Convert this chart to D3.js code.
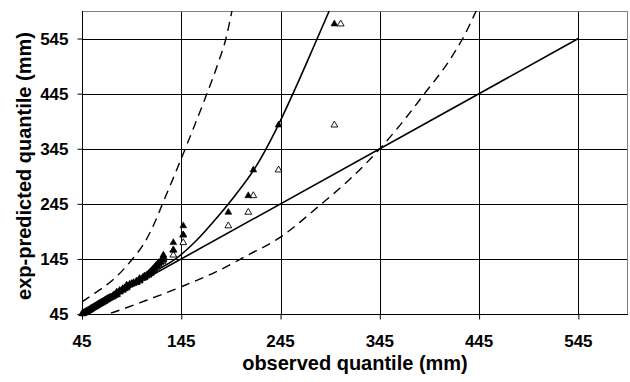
<!DOCTYPE html>
<html>
<head>
<meta charset="utf-8">
<script src="https://cdn.jsdelivr.net/npm/d3@7"></script>
<style>
  html, body { margin: 0; padding: 0; background: #fff; }
  svg { display: block; font-family: "Liberation Sans", Arial, sans-serif; }
</style>
</head>
<body>
<svg id="chart" width="630" height="382"></svg>
<script>
// ---- data ----
const xTicks = [45, 145, 245, 345, 445, 545];
const yTicks = [45, 145, 245, 345, 445, 545];

// filled triangles: observed vs predicted
const filledObserved = [45,46,47,48,49,50,51,52,53,54,55,56,57,58,59,60,61,62,63,64,65,66,67,68,69,70,71,72,73,74,76,77,78,80,80,80,83,83,86,86,88,90,90,90,93,95,97,100,100,103,103,103,106,108,108,110,112,112,114,114,116,116,118,118,120,120,122,122,124,126,127,127,127,137,137,147,147,192.4,212.5,217.6,243,299.2];
const filledPredicted = [45.5,46.5,47.5,48.5,49.5,50.5,51.5,52.5,53.5,55,56,57,58,59,60,61.5,62.5,63.5,64.5,65.5,66.5,67.5,68.5,70,71,72,73,74,75,76,78,79,80,81,83,85,86,88,89.5,91,92.5,94,96,97.5,99,100.5,102,103.5,105,106.5,108,109.5,111,112.5,114,115.5,117,118.5,120,122,124,126,128,130,132,134,136,138,140,143,146,149,152,161,174.5,188.5,205,229.6,259.7,306.4,388,571.4];

// open triangles
const openObserved = [46,47,48,49,50,51,52,53,54,55,56,57,58,59,60,61,62,63,64,65,66,67,68,69,70,71,72,73,74,76,77,78,80,80,80,83,83,86,86,88,90,90,90,93,95,97,100,100,103,103,103,106,108,108,110,112,112,114,114,116,116,118,118,120,120,122,122,124,126,127,127,127,137,137,147,147,192.4,212.5,217.6,243,299.2,305.6];
const openPredicted = [45.5,46.5,47.5,48.5,49.5,50.5,51.5,52.5,53.5,55,56,57,58,59,60,61.5,62.5,63.5,64.5,65.5,66.5,67.5,68.5,70,71,72,73,74,75,76,78,79,80,81,83,85,86,88,89.5,91,92.5,94,96,97.5,99,100.5,102,103.5,105,106.5,108,109.5,111,112.5,114,115.5,117,118.5,120,122,124,126,128,130,132,134,136,138,140,143,146,149,152,161,174.5,188.5,205,229.6,259.7,306.4,388,571.4];

// reference lines / curves
const identityX = [45, 545];
const identityY = [45, 545];
const solidCurveX = [45, 80, 100, 120, 140, 160, 180, 200, 220, 240, 260, 280, 294];
const solidCurveY = [45, 80, 102, 124, 146, 178, 218, 262, 312, 378, 455, 537, 595];
const upperDashX = [45, 58, 78, 95, 108.5, 118.5, 127, 140, 155, 170, 183, 190, 196];
const upperDashY = [67, 83, 110, 143, 176, 212, 249, 305, 372, 441, 505, 545, 595];
const lowerDashX = [45, 73, 110, 143.7, 184, 210, 244.5, 283, 315, 345, 365, 390, 415, 430, 442];
const lowerDashY = [32, 46, 70, 93.5, 125, 150, 184, 240, 290, 345, 387, 445, 505, 550, 595];

// ---- drawing ----
const svg = d3.select("#chart");
const pL = 82, pR = 628, pT = 11, pB = 314;
const x = d3.scaleLinear().domain([45, 595]).range([pL, pR]);
const y = d3.scaleLinear().domain([45, 595]).range([pB, pT]);

svg.append("defs").append("clipPath").attr("id", "plotclip")
  .append("rect").attr("x", pL).attr("y", pT).attr("width", pR - pL).attr("height", pB - pT);

// gridlines
const grid = svg.append("g");
grid.selectAll("line.h").data(yTicks.slice(1)).join("line").attr("class", "h")
  .attr("x1", pL).attr("x2", pR)
  .attr("y1", d => Math.round(y(d)) + 0.5).attr("y2", d => Math.round(y(d)) + 0.5)
  .attr("stroke", "#000").attr("stroke-width", 1);
grid.selectAll("line.v").data(xTicks.slice(1)).join("line").attr("class", "v")
  .attr("y1", pT).attr("y2", pB)
  .attr("x1", d => Math.round(x(d)) + 0.5).attr("x2", d => Math.round(x(d)) + 0.5)
  .attr("stroke", "#000").attr("stroke-width", 1);

// frame: top and right grey
svg.append("line").attr("x1", pL).attr("x2", pR).attr("y1", pT + 0.5).attr("y2", pT + 0.5)
  .attr("stroke", "#808080").attr("stroke-width", 1);
svg.append("line").attr("x1", pR - 0.5).attr("x2", pR - 0.5).attr("y1", pT).attr("y2", pB)
  .attr("stroke", "#808080").attr("stroke-width", 1);

// axes
const xAxis = d3.axisBottom(x).tickValues(xTicks).tickSize(5).tickSizeOuter(0).tickFormat("");
const yAxis = d3.axisLeft(y).tickValues(yTicks).tickSize(5).tickSizeOuter(0).tickFormat("");
const gx = svg.append("g").attr("transform", `translate(0,${pB + 0.5})`).call(xAxis);
const gy = svg.append("g").attr("transform", `translate(${pL + 0.5},0)`).call(yAxis);
gx.select(".domain").attr("d", `M${pL},0H${pR}`).attr("stroke", "#000");
gy.select(".domain").attr("d", `M0,${pT}V${pB}`).attr("stroke", "#000");
gx.selectAll(".tick line").attr("stroke", "#000");
gy.selectAll(".tick line").attr("stroke", "#000");

// tick labels
svg.append("g").selectAll("text").data(xTicks).join("text")
  .attr("x", d => x(d)).attr("y", 346.5)
  .attr("text-anchor", "middle")
  .attr("font-size", 17).attr("font-weight", "bold").attr("fill", "#000")
  .text(d => d);
svg.append("g").selectAll("text").data(yTicks).join("text")
  .attr("x", 68.5).attr("y", d => y(d) + 6)
  .attr("text-anchor", "end")
  .attr("font-size", 17).attr("font-weight", "bold").attr("fill", "#000")
  .text(d => d);

// axis titles
svg.append("text").attr("x", 355).attr("y", 370).attr("text-anchor", "middle")
  .attr("font-size", 20).attr("font-weight", "bold").text("observed quantile (mm)");
svg.append("text").attr("transform", "translate(31,166) rotate(-90)").attr("text-anchor", "middle")
  .attr("font-size", 20).attr("font-weight", "bold").text("exp-predicted quantile (mm)");

// curves
const plot = svg.append("g").attr("clip-path", "url(#plotclip)");
const line = d3.line().x(d => x(d[0])).y(d => y(d[1]));
const smooth = d3.line().x(d => x(d[0])).y(d => y(d[1])).curve(d3.curveMonotoneX);
const zip = (a, b) => a.map((v, i) => [v, b[i]]);

plot.append("path").attr("d", line(zip(identityX, identityY)))
  .attr("fill", "none").attr("stroke", "#000").attr("stroke-width", 1.6);
plot.append("path").attr("d", smooth(zip(solidCurveX, solidCurveY)))
  .attr("fill", "none").attr("stroke", "#000").attr("stroke-width", 1.6);
plot.append("path").attr("d", smooth(zip(upperDashX, upperDashY)))
  .attr("fill", "none").attr("stroke", "#000").attr("stroke-width", 1.4).attr("stroke-dasharray", "9,6");
plot.append("path").attr("d", smooth(zip(lowerDashX, lowerDashY)))
  .attr("fill", "none").attr("stroke", "#000").attr("stroke-width", 1.4).attr("stroke-dasharray", "9,6");

// points
const tri = d3.symbol().type(d3.symbolTriangle).size(20);
svg.append("g").selectAll("path").data(zip(openObserved, openPredicted)).join("path")
  .attr("d", tri)
  .attr("transform", d => `translate(${x(d[0])},${y(d[1])})`)
  .attr("fill", "#fff").attr("stroke", "#000").attr("stroke-width", 0.9);
svg.append("g").selectAll("path").data(zip(filledObserved, filledPredicted)).join("path")
  .attr("d", tri)
  .attr("transform", d => `translate(${x(d[0])},${y(d[1])})`)
  .attr("fill", "#000").attr("stroke", "#000").attr("stroke-width", 0.6);
</script>
</body>
</html>
